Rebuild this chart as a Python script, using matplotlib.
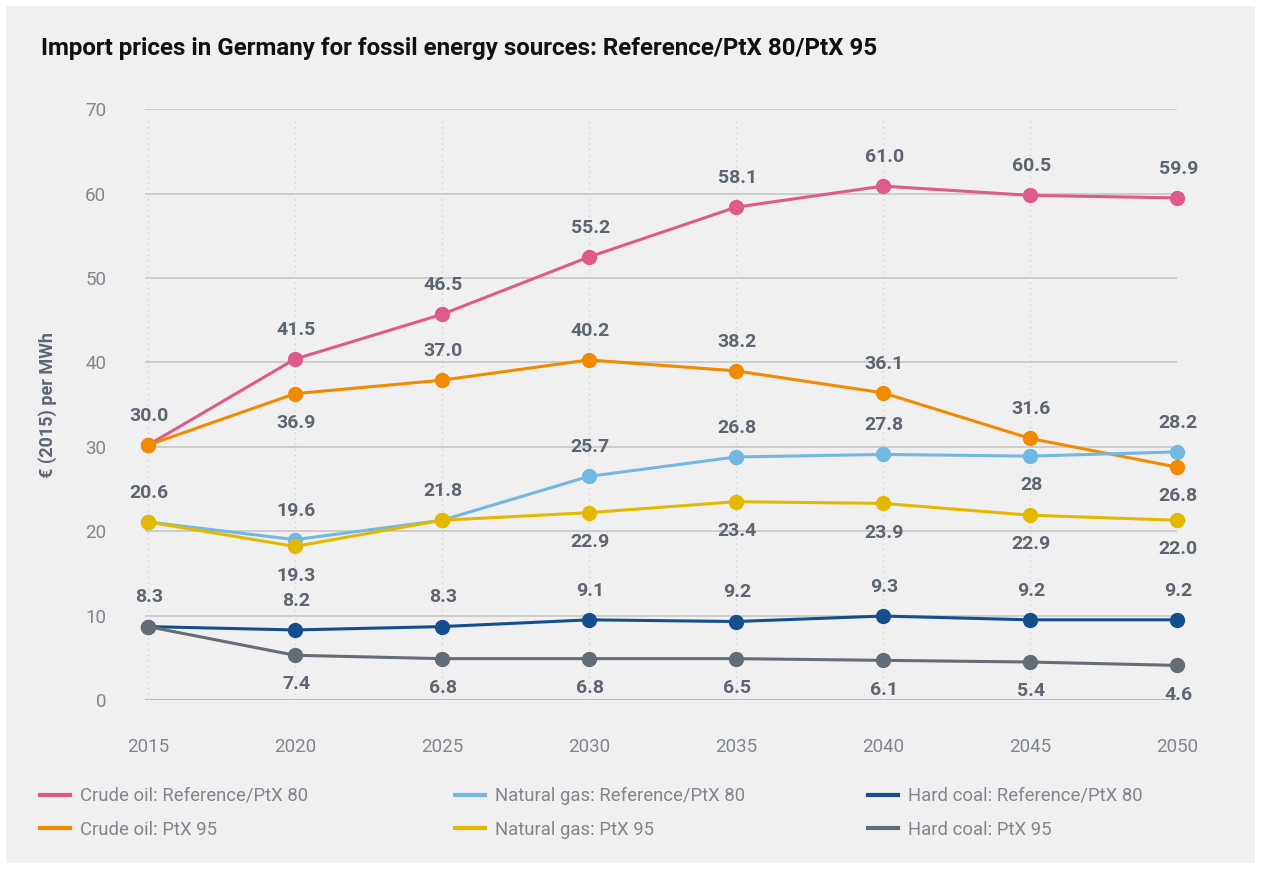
import matplotlib
matplotlib.use("Agg")
import matplotlib.pyplot as plt
from matplotlib.patches import Rectangle
from matplotlib.lines import Line2D

plt.rcParams['font.family'] = ['Roboto', 'DejaVu Sans']

years = [2015, 2020, 2025, 2030, 2035, 2040, 2045, 2050]

# point values
crude_ref = [30.2, 40.4, 45.7, 52.5, 58.4, 60.9, 59.8, 59.5]
crude_ptx = [30.2, 36.3, 37.9, 40.3, 39.0, 36.4, 31.0, 27.6]
gas_ref = [21.1, 19.0, 21.3, 26.5, 28.8, 29.1, 28.9, 29.4]
gas_ptx = [21.1, 18.2, 21.3, 22.2, 23.5, 23.3, 21.9, 21.3]
coal_ref = [8.7, 8.3, 8.7, 9.5, 9.3, 9.95, 9.5, 9.5]
coal_ptx = [8.7, 5.3, 4.9, 4.9, 4.9, 4.7, 4.5, 4.1]

# printed data labels (text as shown), and side of the marker
crude_ref_lbl = ["30.0", "41.5", "46.5", "55.2", "58.1", "61.0", "60.5", "59.9"]
crude_ref_pos = ["a"] * 8
crude_ptx_lbl = [None, "36.9", "37.0", "40.2", "38.2", "36.1", "31.6", "26.8"]
crude_ptx_pos = [None, "b", "a", "a", "a", "a", "a", "b"]
gas_ref_lbl = ["20.6", "19.6", "21.8", "25.7", "26.8", "27.8", "28", "28.2"]
gas_ref_pos = ["a", "a", "a", "a", "a", "a", "b", "a"]
gas_ptx_lbl = [None, "19.3", None, "22.9", "23.4", "23.9", "22.9", "22.0"]
gas_ptx_pos = [None] + ["b"] * 7
coal_ref_lbl = ["8.3", "8.2", "8.3", "9.1", "9.2", "9.3", "9.2", "9.2"]
coal_ref_pos = ["a"] * 8
coal_ptx_lbl = [None, "7.4", "6.8", "6.8", "6.5", "6.1", "5.4", "4.6"]
coal_ptx_pos = [None] + ["b"] * 7

series = [
    ("Crude oil: Reference/PtX 80", crude_ref, crude_ref_lbl, crude_ref_pos, "#dd5a8a"),
    ("Crude oil: PtX 95", crude_ptx, crude_ptx_lbl, crude_ptx_pos, "#f08a00"),
    ("Natural gas: Reference/PtX 80", gas_ref, gas_ref_lbl, gas_ref_pos, "#72b8e2"),
    ("Natural gas: PtX 95", gas_ptx, gas_ptx_lbl, gas_ptx_pos, "#e5b800"),
    ("Hard coal: Reference/PtX 80", coal_ref, coal_ref_lbl, coal_ref_pos, "#154e8e"),
    ("Hard coal: PtX 95", coal_ptx, coal_ptx_lbl, coal_ptx_pos, "#646c75"),
]

TICK_C = "#80868d"
LBL_C = "#5d6670"

fig = plt.figure(figsize=(12.61, 8.69), dpi=100)
fig.patch.set_facecolor("white")
# light grey panel behind everything
fig.add_artist(Rectangle((6 / 1261, 6 / 869), 1249 / 1261, 857 / 869,
                         transform=fig.transFigure, facecolor="#f0f0f0",
                         edgecolor="none", zorder=-10))

ax = fig.add_axes([145 / 1261, 169 / 869, (1177 - 145) / 1261, (700 - 109.3) / 869])
ax.set_facecolor("none")
ax.set_xlim(2014.9, 2050)
ax.set_ylim(0, 70)

# grid
for v in range(10, 80, 10):
    ax.axhline(v, color="#c6c6c6", lw=1.2, zorder=1)
ax.axhline(0, color="#b8b8b8", lw=2.2, zorder=1)
ax.vlines(years, 0, 69, colors="#d2d2d2", linestyles=(0, (1, 3)), lw=1, zorder=1)

for name, vals, lbls, pos, col in series:
    ax.plot(years, vals, color=col, lw=2.2, marker="o", ms=10, mec=col,
            label=name, zorder=3, clip_on=False)
    for x, y, t, p in zip(years, vals, lbls, pos):
        if t is None:
            continue
        dy = 21 if p == "a" else -21
        ax.annotate(t, (x, y), xytext=(1, dy), textcoords="offset points",
                    ha="center", va="center", fontsize=14, fontweight="bold",
                    color=LBL_C, zorder=4)

for s in ax.spines.values():
    s.set_visible(False)
ax.set_xticks(years)
ax.set_yticks(range(0, 80, 10))
ax.tick_params(length=0, labelsize=13.5, labelcolor=TICK_C)
ax.tick_params(axis="x", pad=27)
ax.tick_params(axis="y", pad=28)

ax.set_ylabel("€ (2015) per MWh", fontsize=13, fontweight="bold", color=LBL_C,
              labelpad=20)

fig.text(41 / 1261, 1 - 48 / 869,
         "Import prices in Germany for fossil energy sources: Reference/PtX 80/PtX 95",
         fontsize=17.4, fontweight="bold", color="#111111", ha="left", va="center")

# legend: three columns placed separately
handles = [Line2D([], [], color=c, lw=3) for _, _, _, _, c in series]
names = [n for n, _, _, _, _ in series]
col_x = [40, 455, 868]
for i, cx in enumerate(col_x):
    lg = fig.legend(handles[2 * i:2 * i + 2], names[2 * i:2 * i + 2],
                    loc="upper left", bbox_to_anchor=(cx / 1261, 1 - 787 / 869),
                    frameon=False, fontsize=13.3, handlelength=1.62, handletextpad=0.55,
                    labelspacing=0.85, borderaxespad=0, borderpad=0)
    for t in lg.get_texts():
        t.set_color(TICK_C)

fig.savefig("out.png", dpi=100, facecolor=fig.get_facecolor())
